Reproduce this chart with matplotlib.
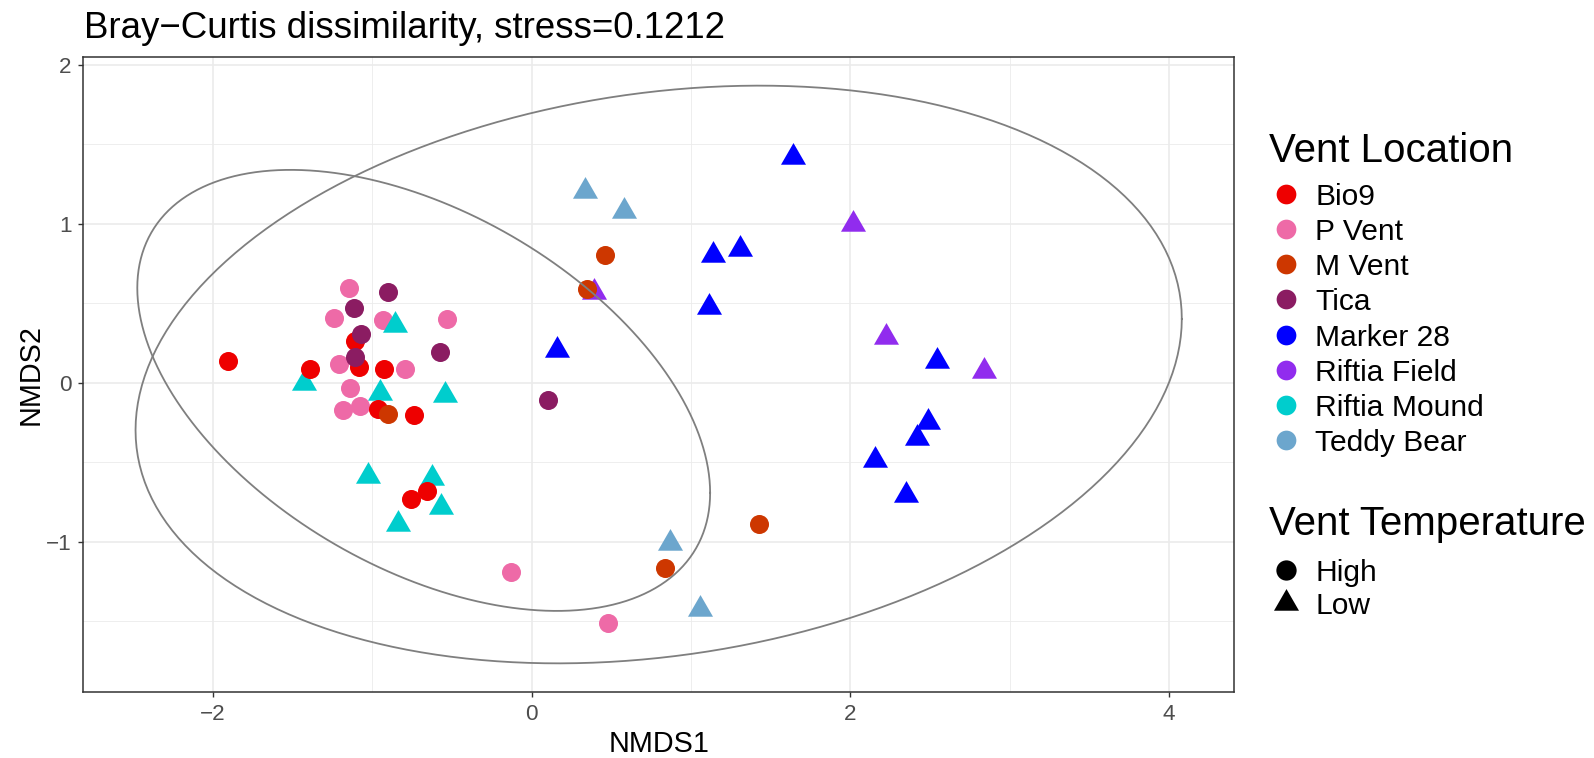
import numpy as np
import matplotlib
matplotlib.use("Agg")
import matplotlib.pyplot as plt
from matplotlib.path import Path
from matplotlib.lines import Line2D

plt.rcParams["font.family"] = ["Liberation Sans", "DejaVu Sans"]

# NMDS scores, per vent location
locations = ["Bio9", "P Vent", "M Vent", "Tica", "Marker 28",
             "Riftia Field", "Riftia Mound", "Teddy Bear"]
temperature = {"Bio9": "High", "P Vent": "High", "M Vent": "High", "Tica": "High",
               "Marker 28": "Low", "Riftia Field": "Low",
               "Riftia Mound": "Low", "Teddy Bear": "Low"}
colors = {"Bio9": "#EE0000", "P Vent": "#EE6AA7", "M Vent": "#CD3700",
          "Tica": "#8B1C62", "Marker 28": "#0000FF", "Riftia Field": "#912CEE",
          "Riftia Mound": "#00CDCD", "Teddy Bear": "#6CA6CD"}

bio9_x = [-1.906, -1.394, -1.109, -1.086, -0.929, -0.967, -0.737, -0.659, -0.758]
bio9_y = [0.139, 0.084, 0.263, 0.097, 0.086, -0.164, -0.205, -0.682, -0.730]
pvent_x = [-1.145, -1.241, -0.935, -0.530, -1.210, -0.795, -1.139, -1.186, -1.076, -0.130, 0.481]
pvent_y = [0.598, 0.409, 0.395, 0.403, 0.120, 0.084, -0.033, -0.174, -0.147, -1.192, -1.509]
mvent_x = [-0.902, 0.462, 0.345, 0.839, 1.425]
mvent_y = [-0.193, 0.802, 0.592, -1.165, -0.885]
tica_x = [-0.900, -1.116, -1.072, -1.107, -0.576, 0.100]
tica_y = [0.573, 0.468, 0.309, 0.160, 0.193, -0.111]
m28_x = [1.642, 1.138, 1.310, 1.115, 0.161, 2.544, 2.486, 2.419, 2.157, 2.348]
m28_y = [1.423, 0.806, 0.842, 0.479, 0.204, 0.135, -0.246, -0.350, -0.483, -0.705]
rfield_x = [0.389, 2.015, 2.226, 2.841]
rfield_y = [0.571, 0.997, 0.286, 0.076]
rmound_x = [-0.858, -1.427, -0.950, -0.546, -1.026, -0.628, -0.569, -0.841]
rmound_y = [0.365, -0.002, -0.063, -0.076, -0.583, -0.596, -0.783, -0.886]
teddy_x = [0.333, 0.581, 0.870, 1.058]
teddy_y = [1.205, 1.083, -1.008, -1.423]

scores = {"Bio9": (bio9_x, bio9_y), "P Vent": (pvent_x, pvent_y),
          "M Vent": (mvent_x, mvent_y), "Tica": (tica_x, tica_y),
          "Marker 28": (m28_x, m28_y), "Riftia Field": (rfield_x, rfield_y),
          "Riftia Mound": (rmound_x, rmound_y), "Teddy Bear": (teddy_x, teddy_y)}

# 95% ellipses per temperature group, centre and shape matrix
ellipse_center = {"High": [-0.678, -0.0475], "Low": [0.797, 0.0525]}
ellipse_shape = {"High": [[3.233, -1.159], [-1.159, 1.925]],
                 "Low": [[10.785, 1.149], [1.149, 3.303]]}

# R-style filled triangle (pch 17), centred on its centroid
tri = Path([(0, 1.555), (1.347, -0.778), (-1.347, -0.778), (0, 1.555)],
           [Path.MOVETO, Path.LINETO, Path.LINETO, Path.CLOSEPOLY])
shapes = {"High": "o", "Low": tri}
sizes = {"High": 13.7, "Low": 20.8}


def ellipse_path(center, shape, segments=200):
    ang = np.linspace(0, 2 * np.pi, segments + 1)
    unit = np.column_stack([np.cos(ang), np.sin(ang)])
    L = np.linalg.cholesky(np.array(shape))
    return np.array(center) + unit @ L.T


W, H = 1594, 758
fig = plt.figure(figsize=(W / 100, H / 100), dpi=100)
ax = fig.add_axes([83.3 / W, 1 - 692.3 / H, (1234.2 - 83.3) / W, (692.3 - 56.7) / H])

ax.set_xlim(-2.815, 4.41)
ax.set_ylim(-1.947, 2.052)
ax.set_xticks([-2, 0, 2, 4])
ax.set_yticks([-1, 0, 1, 2])
ax.set_xticks([-1, 1, 3], minor=True)
ax.set_yticks([-1.5, -0.5, 0.5, 1.5], minor=True)
ax.grid(which="major", color="#EBEBEB", linewidth=1.2)
ax.grid(which="minor", color="#EBEBEB", linewidth=0.6)
ax.set_axisbelow(True)
ax.tick_params(which="minor", length=0)
ax.tick_params(which="major", length=3.9, width=1.0, color="#333333",
               labelsize=16.2, labelcolor="#4D4D4D")
ax.tick_params(axis="x", pad=4.3)
ax.tick_params(axis="y", pad=4.5)
for s in ax.spines.values():
    s.set_color("#333333")
    s.set_linewidth(1.1)

draw_order = ["Teddy Bear", "Marker 28", "Riftia Field", "P Vent",
              "Riftia Mound", "Bio9", "Tica", "M Vent"]
for loc in draw_order:
    xs, ys = scores[loc]
    t = temperature[loc]
    ax.plot(xs, ys, linestyle="none", marker=shapes[t], markersize=sizes[t],
            markerfacecolor=colors[loc], markeredgewidth=0, zorder=3)

for t in ["High", "Low"]:
    e = ellipse_path(ellipse_center[t], ellipse_shape[t])
    ax.plot(e[:, 0], e[:, 1], color="#7F7F7F", linewidth=1.3, zorder=4)

ax.set_xlabel("NMDS1", fontsize=20.7, labelpad=4)
ax.set_ylabel("NMDS2", fontsize=20.7, labelpad=1)
fig.text(84 / W, 1 - 38 / H, "Bray\u2212Curtis dissimilarity, stress=0.1212",
         fontsize=26.4, ha="left", va="baseline")


def fx(px):
    return px / W


def fy(py):
    return 1 - py / H


# legend: vent location
fig.text(fx(1269), fy(161.7), "Vent Location", fontsize=29, ha="left", va="baseline")
for i, loc in enumerate(locations):
    yc = 194 + i * 35.14
    fig.add_artist(Line2D([fx(1285.7)], [fy(yc)], marker="o", markersize=14.2,
                          markerfacecolor=colors[loc], markeredgewidth=0,
                          linestyle="none", transform=fig.transFigure))
    fig.text(fx(1315), fy(yc), loc, fontsize=21.6, ha="left", va="center_baseline")

# legend: vent temperature
fig.text(fx(1269), fy(535), "Vent Temperature", fontsize=29, ha="left", va="baseline")
for i, t in enumerate(["High", "Low"]):
    yc = 570 + i * 33
    fig.add_artist(Line2D([fx(1285.7)], [fy(yc)], marker=shapes[t],
                          markersize=14.6 if t == "High" else 20.8,
                          markerfacecolor="black", markeredgewidth=0,
                          linestyle="none", transform=fig.transFigure))
    fig.text(fx(1315), fy(yc), t, fontsize=21.6, ha="left", va="center_baseline")

fig.savefig("out.png", dpi=100)
